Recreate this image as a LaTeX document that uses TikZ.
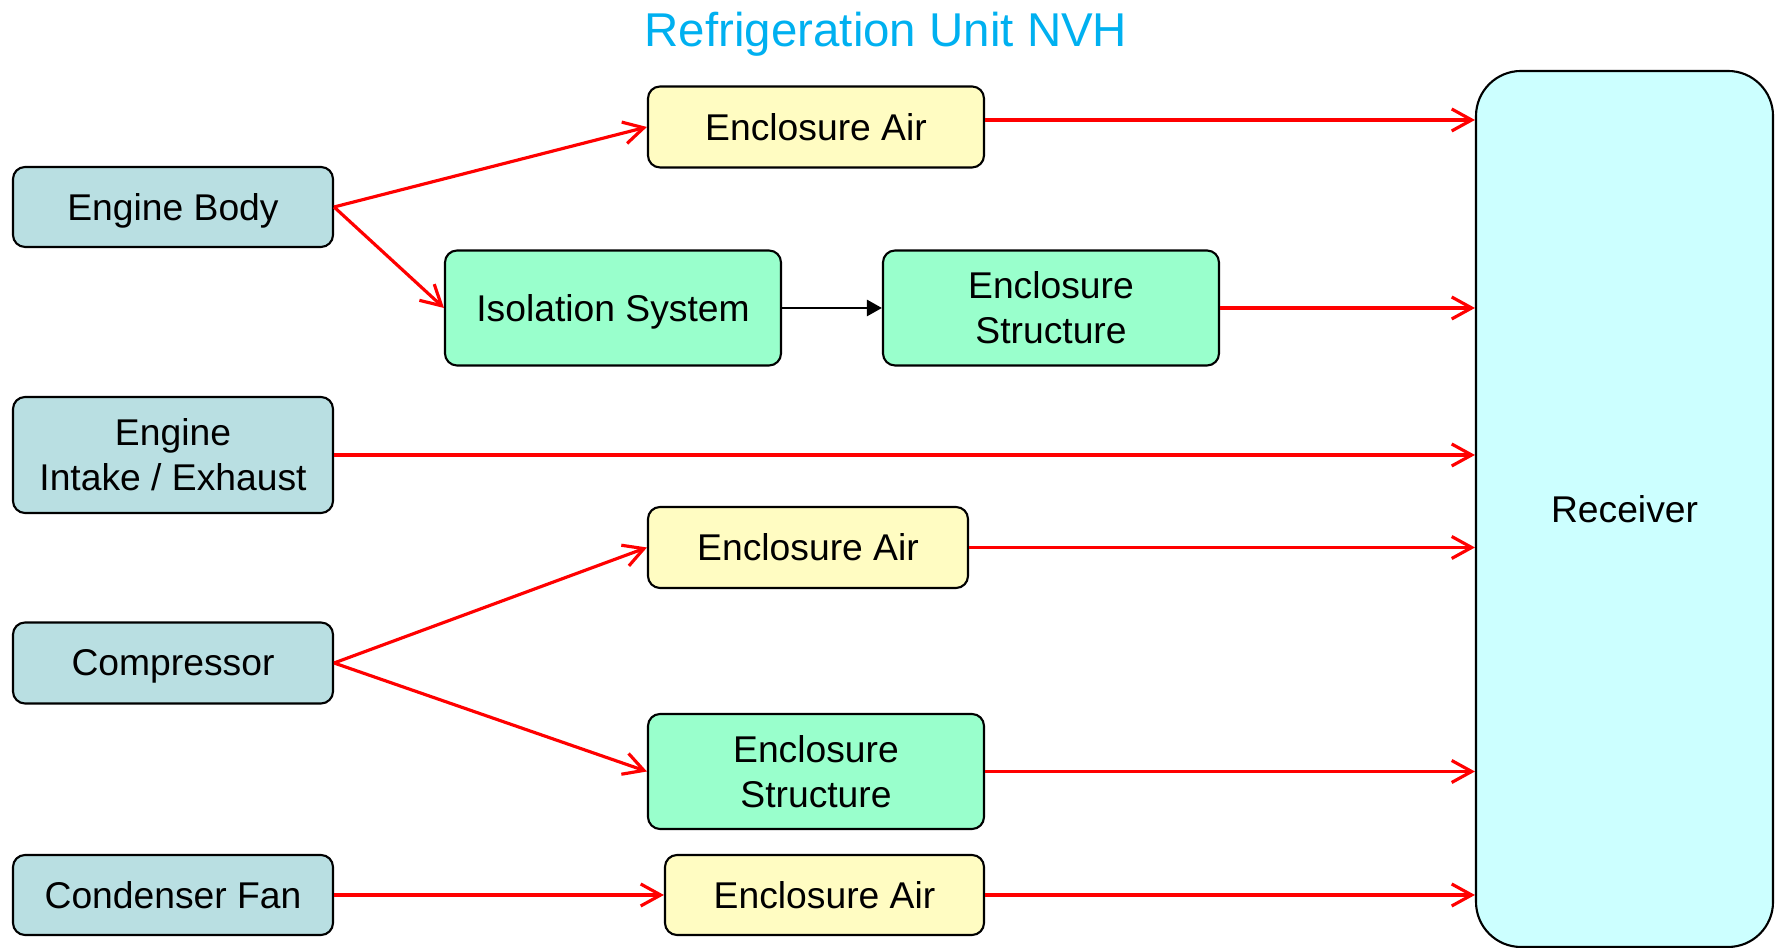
\documentclass[tikz,border=0pt]{standalone}
\usepackage{fontspec}
\setmainfont{Liberation Sans}
\usepackage{xcolor}
\usepackage{tikz}
\usetikzlibrary{arrows.meta,positioning}

\definecolor{srcblue}{RGB}{185,223,226}
\definecolor{airyellow}{RGB}{255,252,194}
\definecolor{structgreen}{RGB}{153,255,204}
\definecolor{recvcyan}{RGB}{204,255,255}
\definecolor{titleblue}{RGB}{0,176,240}

\tikzset{
    box/.style={
        draw=black,
        line width=0.6pt,
        rounded corners=0.12cm,
        inner sep=0pt,
        align=center,
        text depth=0pt,
        font=\fontsize{10.6}{12.8}\selectfont
    },
    srcbox/.style={box, fill=srcblue, minimum width=3.2cm},
    airbox/.style={box, fill=airyellow, minimum height=0.81cm},
    structbox/.style={box, fill=structgreen, minimum width=3.36cm, minimum height=1.15cm},
    redarrow/.style={
        -{Straight Barb[length=0.2cm,width=0.22cm]},
        draw=red,
        line width=0.9pt
    }
}

\begin{document}
\begin{tikzpicture}
    \useasboundingbox (0,0) rectangle (17.76,9.48);

    \node[anchor=base, text=titleblue, font=\fontsize{13.5}{16}\selectfont]
        (title) at (8.86,9.013) {Refrigeration Unit NVH};

    % sources
    \node[srcbox, minimum height=0.80cm] (body) at (1.73,7.41) {Engine Body};
    \node[srcbox, minimum height=1.16cm] (intake) at (1.73,4.93) {Engine\\Intake / Exhaust};
    \node[srcbox, minimum height=0.81cm] (compr) at (1.73,2.85) {Compressor};
    \node[srcbox, minimum height=0.80cm] (fan) at (1.73,0.53) {Condenser Fan};

    % paths
    \node[airbox, minimum width=3.36cm] (air1) at (8.16,8.21) {Enclosure Air};
    \node[structbox] (isol) at (6.13,6.40) {Isolation System};
    \node[structbox] (struct1) at (10.51,6.40) {Enclosure\\Structure};
    \node[airbox, minimum width=3.20cm] (air2) at (8.08,4.005) {Enclosure Air};
    \node[structbox] (struct2) at (8.16,1.765) {Enclosure\\Structure};
    \node[airbox, minimum width=3.19cm, minimum height=0.80cm] (air3) at (8.245,0.53) {Enclosure Air};

    % receiver
    \node[
        box,
        fill=recvcyan,
        rounded corners=0.45cm,
        minimum width=2.97cm,
        minimum height=8.76cm
        ] (recv) at (16.245,4.39) {Receiver};

    \draw[redarrow] (body.east) -- (air1.west);
    \draw[redarrow] (body.east) -- (isol.west);
    \draw[
        -{Triangle[length=0.15cm,width=0.16cm]},
        line width=0.75pt
        ] (isol.east) -- (struct1.west);
    \draw[redarrow] (compr.east) -- (air2.west);
    \draw[redarrow] (compr.east) -- (struct2.west);
    \draw[redarrow] (fan.east) -- (air3.west);

    \draw[redarrow] ([yshift=0.07cm]air1.east) -- ([yshift=0.07cm]air1.east -| recv.west);
    \draw[redarrow] (struct1.east) -- (struct1.east -| recv.west);
    \draw[redarrow] (intake.east) -- (intake.east -| recv.west);
    \draw[redarrow] (air2.east) -- (air2.east -| recv.west);
    \draw[redarrow] (struct2.east) -- (struct2.east -| recv.west);
    \draw[redarrow] (air3.east) -- (air3.east -| recv.west);
\end{tikzpicture}
\end{document}
